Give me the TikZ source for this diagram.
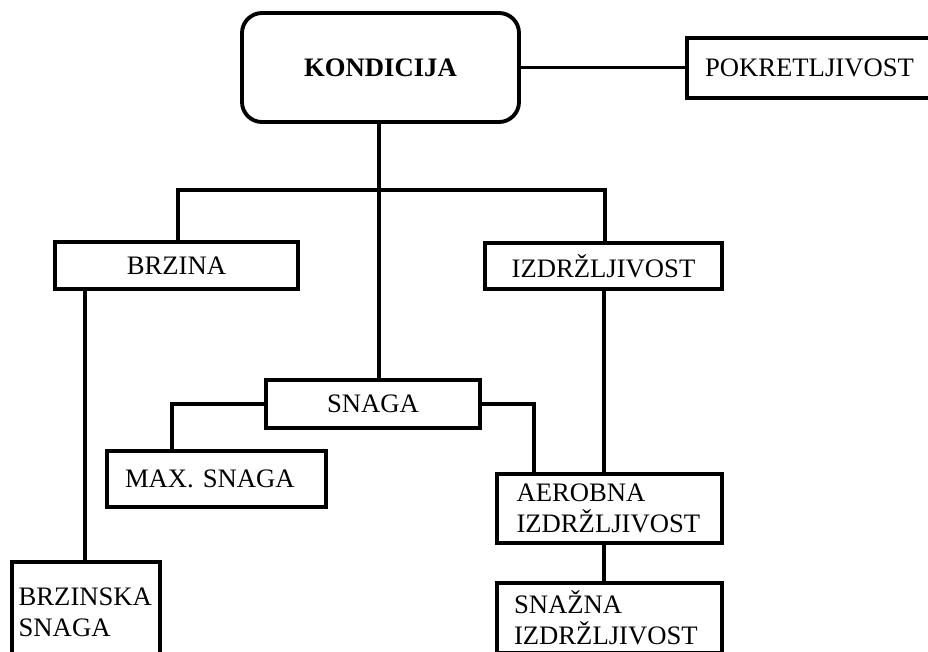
\documentclass[tikz,border=0pt]{standalone}
\usepackage{fontspec}
\setmainfont{Liberation Serif}
\usepackage{tikz}
\usetikzlibrary{calc}

\begin{document}
\begin{tikzpicture}[x=0.75pt,y=-0.75pt,
    box/.style={draw,line width=2.9pt,inner sep=0pt,font=\fontsize{20}{23}\selectfont},
    line/.style={line width=2.9pt}]
            \useasboundingbox (0,0) rectangle (928,651);
            \clip (0,0) rectangle (928,651);

            \node[box,rounded corners=15pt,minimum width=207.75pt,minimum height=81.75pt,font=\fontsize{20}{23}\selectfont\bfseries] (kond) at (380.5,67.5) {KONDICIJA};
            \node[box,minimum height=45pt,inner xsep=13.5pt,text width=166.5pt,align=left] (pokr) at (816,68) {POKRETLJIVOST};

            \node[box,minimum width=182.25pt,minimum height=35.25pt] (brzina) at (176.5,265.5) {BRZINA};
            \node[box,minimum width=177.75pt,minimum height=34.5pt] (izdr) at (603.5,266) {IZDRŽLJIVOST};
            \node[box,minimum width=160.5pt,minimum height=36pt] (snaga) at (373,404) {SNAGA};
            \node[box,minimum height=42pt,inner xsep=13.5pt,text width=137.25pt,align=left] (max) at (216.5,479) {MAX. SNAGA};
            \node[box,minimum height=51.75pt,inner xsep=14.6pt,text width=139.5pt,align=left] (aerob) at (609.5,508.5) {AEROBNA\\IZDRŽLJIVOST};

            \node[box,anchor=north,inner xsep=5pt,inner ysep=19.5pt,text width=101pt,align=left] (brzs) at (86,560) {BRZINSKA\\SNAGA};
            \node[box,anchor=north,inner xsep=12.75pt,inner ysep=6pt,text width=143.25pt,align=left] (snazna) at (609.5,581) {SNAŽNA\\IZDRŽLJIVOST};

            \coordinate (split) at (379,190);

            \draw[line] (kond.east) -- (kond.east -| pokr.west);
            \draw[line] (kond.south -| split) -- (split |- snaga.north);
            \draw[line] (brzina.north -| 178,0) |- (split) -| (izdr.north -| 605,0);
            \draw[line] (brzina.south -| 85,0) -- (brzs.north -| 85,0);
            \draw[line] (izdr.south -| 604,0) -- (aerob.north -| 604,0);
            \draw[line] (snaga.west) -| (max.north -| 172,0);
            \draw[line] (snaga.east) -| (aerob.north -| 534,0);
            \draw[line] (aerob.south -| 604,0) -- (snazna.north -| 604,0);
        \end{tikzpicture}
\end{document}
